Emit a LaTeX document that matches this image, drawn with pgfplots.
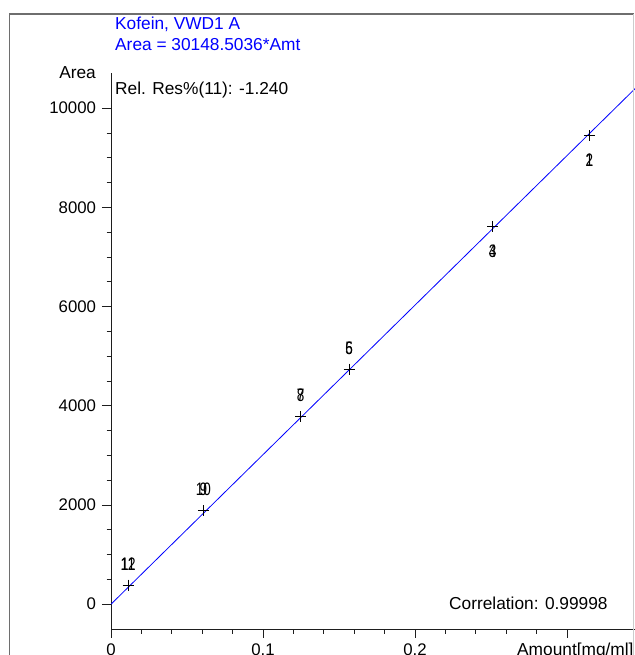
\documentclass[border=0pt]{standalone}
\usepackage{fontspec}
\setmainfont{Liberation Sans}
\newfontfamily\narrowfont{Liberation Sans}[FakeStretch=0.75]
\usepackage{pgfplots}
\pgfplotsset{compat=1.18}
\definecolor{framegray}{RGB}{110,110,110}
\definecolor{axisgray}{RGB}{30,30,30}
\definecolor{lineblue}{RGB}{0,0,255}
\begin{document}
\fontsize{17.3bp}{19bp}\selectfont
\begin{tikzpicture}
\begin{axis}[
  at={(111bp,26bp)}, anchor=south west,
  scale only axis, width=562.4bp, height=555.5bp,
  xmin=0, xmax=0.37, ymin=-500, ymax=10700,
  axis lines=left,
  axis line style={axisgray, line width=0.8bp, -},
  xtick={0,0.1,0.2,0.3}, xticklabels={0,0.1,0.2,},
  minor x tick num=4,
  ytick={0,2000,4000,6000,8000,10000},
  scaled y ticks=false,
  minor y tick num=3,
  tick align=outside, major tick length=9bp, minor tick length=4.5bp,
  tick style={axisgray, line width=0.8bp},
  ticklabel style={font=\fontsize{16.8bp}{19bp}\selectfont, text=black},
  clip=true,
  /pgf/number format/.cd, 1000 sep={}, assume math mode=true,
]
\addplot[lineblue, line width=0.8bp] coordinates {(0,0) (0.37,11155)};
\addplot[only marks, mark=+, mark size=5.5bp, black, line width=0.8bp] coordinates {
  (0.0113,387) (0.0607,1885) (0.1248,3780) (0.1566,4742) (0.2511,7617) (0.3147,9446)};
% labels above the points (odd numbers)
\addplot[only marks, mark=none, nodes near coords, point meta=explicit symbolic,
  nodes near coords style={anchor=center, yshift=21bp, inner sep=0pt, text=black,
    font=\narrowfont\fontsize{18bp}{19bp}\selectfont}]
  table[meta=label] {
x y label
0.0113 387 11
0.0607 1885 9
0.1248 3780 7
0.1566 4742 5
};
% labels above the points (even numbers)
\addplot[only marks, mark=none, nodes near coords, point meta=explicit symbolic,
  nodes near coords style={anchor=center, yshift=21bp, inner sep=0pt, text=black,
    font=\narrowfont\fontsize{18bp}{19bp}\selectfont}]
  table[meta=label] {
x y label
0.0113 387 12
0.0607 1885 10
0.1248 3780 8
0.1566 4742 6
};
% labels below the points
\addplot[only marks, mark=none, nodes near coords, point meta=explicit symbolic,
  nodes near coords style={anchor=center, yshift=-25bp, inner sep=0pt, text=black,
    font=\narrowfont\fontsize{18bp}{19bp}\selectfont}]
  table[meta=label] {
x y label
0.2511 7617 3
0.3147 9446 1
};
\addplot[only marks, mark=none, nodes near coords, point meta=explicit symbolic,
  nodes near coords style={anchor=center, yshift=-25bp, inner sep=0pt, text=black,
    font=\narrowfont\fontsize{18bp}{19bp}\selectfont}]
  table[meta=label] {
x y label
0.2511 7617 4
0.3147 9446 2
};
\end{axis}
\draw[framegray, line width=1.5bp] (9.5bp,-10bp) -- (9.5bp,641bp) -- (633.5bp,641bp);
\draw[black!20, line width=1bp] (633.5bp,641bp) -- (633.5bp,-10bp);
\node[anchor=base west, text=lineblue, inner sep=0] at (115bp,625.7bp) {Kofein, VWD1 A};
\node[anchor=base west, text=lineblue, inner sep=0] at (115bp,604.5bp) {Area = 30148.5036*Amt};
\node[anchor=base west, inner sep=0] at (115bp,560bp) {Rel. Res\%(11): -1.240};
\node[anchor=base east, inner sep=0] at (96bp,576bp) {Area};
\node[anchor=base west, inner sep=0] at (449bp,45.7bp) {Correlation: 0.99998};
\node[anchor=base west, inner sep=0] at (517bp,-0.5bp) {Amount[mg/ml]};
\pgfresetboundingbox
\useasboundingbox (0,0) rectangle (635bp,655bp);
\end{tikzpicture}
\end{document}
